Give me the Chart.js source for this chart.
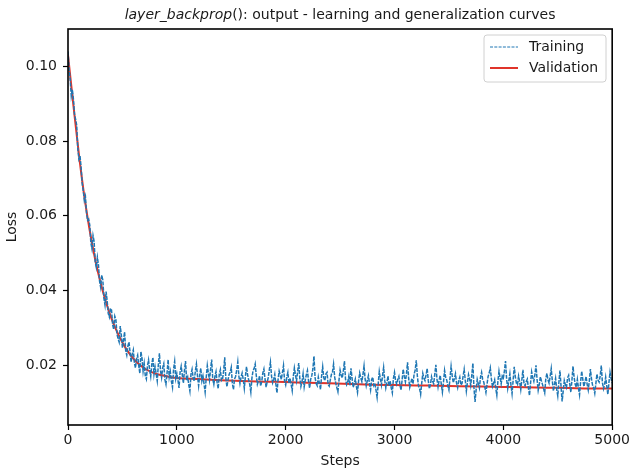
<!DOCTYPE html>
<html>
<head>
<meta charset="utf-8">
<script src="https://cdn.jsdelivr.net/npm/chart.js@4.4.1/dist/chart.umd.min.js"></script>
<style>
  html, body { margin: 0; padding: 0; background: #fff; }
  #wrap { width: 632px; height: 471px; }
</style>
</head>
<body>
<div id="wrap"><canvas id="lossChart" width="632" height="471"></canvas></div>
<script>
// training loss, logged every trainStep steps
const trainStep = 10;
const trainLoss = [
  0.1040, 0.0992, 0.0965, 0.0921, 0.0938, 0.0912, 0.0871, 0.0858, 0.0842, 0.0779, 0.0752, 0.0761, 0.0731, 0.0688, 0.0668, 0.0641, 0.0652, 0.0609, 0.0588, 0.0591,
  0.0575, 0.0528, 0.0512, 0.0547, 0.0531, 0.0476, 0.0462, 0.0489, 0.0468, 0.0425, 0.0409, 0.0441, 0.0428, 0.0379, 0.0361, 0.0397, 0.0372, 0.0338, 0.0329, 0.0352,
  0.0348, 0.0309, 0.0296, 0.0331, 0.0322, 0.0283, 0.0271, 0.0262, 0.0305, 0.0281, 0.0246, 0.0268, 0.0289, 0.0239, 0.0227, 0.0251, 0.0262, 0.0236, 0.0208, 0.0230,
  0.0241, 0.0206, 0.0193, 0.0218, 0.0227, 0.0199, 0.0178, 0.0236, 0.0219, 0.0184, 0.0205, 0.0172, 0.0163, 0.0198, 0.0214, 0.0187, 0.0170, 0.0203, 0.0221, 0.0176,
  0.0196, 0.0177, 0.0158, 0.0201, 0.0232, 0.0185, 0.0167, 0.0193, 0.0204, 0.0162, 0.0149, 0.0179, 0.0215, 0.0168, 0.0183, 0.0157, 0.0141, 0.0190, 0.0210, 0.0164,
  0.0178, 0.0161, 0.0139, 0.0182, 0.0197, 0.0174, 0.0152, 0.0186, 0.0211, 0.0159, 0.0168, 0.0147, 0.0131, 0.0176, 0.0189, 0.0165, 0.0157, 0.0184, 0.0203, 0.0171,
  0.0145, 0.0174, 0.0192, 0.0158, 0.0171, 0.0150, 0.0128, 0.0167, 0.0199, 0.0178, 0.0160, 0.0189, 0.0215, 0.0163, 0.0149, 0.0170, 0.0183, 0.0154, 0.0137, 0.0176,
  0.0188, 0.0159, 0.0163, 0.0185, 0.0221, 0.0166, 0.0142, 0.0160, 0.0175, 0.0181, 0.0194, 0.0152, 0.0135, 0.0163, 0.0170, 0.0187, 0.0209, 0.0171, 0.0151, 0.0168,
  0.0179, 0.0162, 0.0138, 0.0170, 0.0196, 0.0175, 0.0161, 0.0148, 0.0128, 0.0166, 0.0185, 0.0191, 0.0203, 0.0172, 0.0149, 0.0158, 0.0172, 0.0144, 0.0156, 0.0179,
  0.0190, 0.0164, 0.0141, 0.0155, 0.0167, 0.0188, 0.0208, 0.0171, 0.0153, 0.0162, 0.0176, 0.0149, 0.0126, 0.0161, 0.0184, 0.0173, 0.0162, 0.0180, 0.0199, 0.0157,
  0.0147, 0.0168, 0.0181, 0.0152, 0.0165, 0.0149, 0.0132, 0.0170, 0.0193, 0.0174, 0.0158, 0.0183, 0.0206, 0.0165, 0.0143, 0.0156, 0.0177, 0.0142, 0.0160, 0.0175,
  0.0186, 0.0158, 0.0139, 0.0163, 0.0172, 0.0190, 0.0224, 0.0167, 0.0151, 0.0145, 0.0168, 0.0152, 0.0135, 0.0171, 0.0196, 0.0166, 0.0159, 0.0177, 0.0181, 0.0148,
  0.0144, 0.0161, 0.0175, 0.0182, 0.0203, 0.0169, 0.0152, 0.0140, 0.0129, 0.0160, 0.0187, 0.0174, 0.0166, 0.0185, 0.0211, 0.0162, 0.0148, 0.0155, 0.0170, 0.0146,
  0.0192, 0.0165, 0.0141, 0.0150, 0.0163, 0.0143, 0.0127, 0.0158, 0.0179, 0.0166, 0.0156, 0.0175, 0.0198, 0.0163, 0.0145, 0.0159, 0.0172, 0.0151, 0.0134, 0.0162,
  0.0168, 0.0146, 0.0152, 0.0133, 0.0114, 0.0149, 0.0183, 0.0164, 0.0147, 0.0172, 0.0194, 0.0160, 0.0139, 0.0153, 0.0171, 0.0144, 0.0158, 0.0139, 0.0126, 0.0165,
  0.0181, 0.0158, 0.0149, 0.0162, 0.0170, 0.0147, 0.0133, 0.0161, 0.0189, 0.0170, 0.0155, 0.0178, 0.0208, 0.0164, 0.0141, 0.0153, 0.0165, 0.0150, 0.0176, 0.0187,
  0.0213, 0.0171, 0.0145, 0.0138, 0.0122, 0.0152, 0.0178, 0.0165, 0.0159, 0.0174, 0.0191, 0.0160, 0.0137, 0.0148, 0.0169, 0.0157, 0.0150, 0.0176, 0.0201, 0.0163,
  0.0142, 0.0160, 0.0173, 0.0149, 0.0128, 0.0155, 0.0186, 0.0168, 0.0160, 0.0145, 0.0134, 0.0166, 0.0197, 0.0172, 0.0153, 0.0164, 0.0177, 0.0152, 0.0140, 0.0159,
  0.0168, 0.0147, 0.0151, 0.0170, 0.0189, 0.0160, 0.0131, 0.0154, 0.0175, 0.0163, 0.0146, 0.0173, 0.0205, 0.0140, 0.0102, 0.0135, 0.0162, 0.0150, 0.0139, 0.0168,
  0.0181, 0.0162, 0.0155, 0.0141, 0.0127, 0.0149, 0.0170, 0.0179, 0.0193, 0.0164, 0.0143, 0.0152, 0.0161, 0.0138, 0.0120, 0.0157, 0.0184, 0.0166, 0.0150, 0.0171,
  0.0166, 0.0185, 0.0211, 0.0163, 0.0138, 0.0158, 0.0177, 0.0147, 0.0124, 0.0160, 0.0196, 0.0169, 0.0152, 0.0148, 0.0171, 0.0155, 0.0135, 0.0161, 0.0188, 0.0150,
  0.0145, 0.0156, 0.0163, 0.0140, 0.0119, 0.0152, 0.0182, 0.0167, 0.0157, 0.0175, 0.0200, 0.0161, 0.0133, 0.0149, 0.0169, 0.0158, 0.0148, 0.0137, 0.0126, 0.0164,
  0.0178, 0.0161, 0.0152, 0.0170, 0.0191, 0.0158, 0.0131, 0.0149, 0.0165, 0.0136, 0.0118, 0.0153, 0.0186, 0.0144, 0.0103, 0.0131, 0.0159, 0.0147, 0.0140, 0.0166,
  0.0173, 0.0150, 0.0128, 0.0159, 0.0197, 0.0168, 0.0149, 0.0141, 0.0162, 0.0139, 0.0121, 0.0156, 0.0184, 0.0162, 0.0143, 0.0155, 0.0170, 0.0149, 0.0134, 0.0158,
  0.0190, 0.0163, 0.0146, 0.0139, 0.0125, 0.0151, 0.0176, 0.0160, 0.0155, 0.0172, 0.0199, 0.0154, 0.0137, 0.0148, 0.0168, 0.0145, 0.0122, 0.0153, 0.0181, 0.0164,
  0.0152
];

// validation loss
const valSteps = [
  0, 50, 100, 150, 200, 250, 300, 350, 400, 450, 500, 550, 600, 650, 700, 750,
  800, 850, 900, 950, 1000, 1200, 1400, 1600, 1800, 2000, 2200, 2400, 2600, 2800,
  3000, 3200, 3400, 3600, 3800, 4000, 4200, 4400, 4600, 4800, 5000
];
const valLoss = [
  0.1030, 0.0895, 0.0765, 0.0652, 0.0560, 0.0483, 0.0420, 0.0368, 0.0325, 0.0290,
  0.0261, 0.0237, 0.0218, 0.0203, 0.0192, 0.0184, 0.0178, 0.0174, 0.0171, 0.0168,
  0.0166, 0.0163, 0.0160, 0.0158, 0.0156, 0.0155, 0.0153, 0.0152, 0.0150, 0.0148,
  0.0147, 0.0146, 0.0145, 0.0144, 0.0143, 0.0142, 0.0141, 0.0140, 0.0139, 0.0138,
  0.0138
];

const xTicks = [0, 1000, 2000, 3000, 4000, 5000];
const yTicks = [0.02, 0.04, 0.06, 0.08, 0.10];

const FONT = "'DejaVu Sans', sans-serif";
const TXT = '#1a1a1a';

// axes box, title and legend drawn like matplotlib
const mplDecor = {
  id: 'mplDecor',
  afterDatasetsDraw(chart) {
    const ctx = chart.ctx;
    const a = chart.chartArea;
    ctx.save();
    ctx.strokeStyle = '#000';
    ctx.lineWidth = 1.6;
    ctx.strokeRect(a.left, a.top, a.right - a.left, a.bottom - a.top);

    // title
    const parts = [
      { t: 'layer_backprop', f: 'italic 14px ' + FONT },
      { t: '(): output - learning and generalization curves', f: '14px ' + FONT }
    ];
    let w = 0;
    parts.forEach(p => { ctx.font = p.f; w += ctx.measureText(p.t).width; });
    let x = (a.left + a.right) / 2 - w / 2;
    ctx.fillStyle = TXT;
    ctx.textBaseline = 'alphabetic';
    ctx.textAlign = 'left';
    parts.forEach(p => {
      ctx.font = p.f;
      ctx.fillText(p.t, x, 19);
      x += ctx.measureText(p.t).width;
    });

    // legend
    const bx = 484, by = 35, bw = 122, bh = 47;
    ctx.beginPath();
    ctx.roundRect(bx, by, bw, bh, 3);
    ctx.fillStyle = 'rgba(255,255,255,0.8)';
    ctx.fill();
    ctx.strokeStyle = '#d0d0d0';
    ctx.lineWidth = 1;
    ctx.stroke();
    ctx.font = '14px ' + FONT;
    ctx.textBaseline = 'middle';
    chart.data.datasets.forEach((ds, i) => {
      const ly = by + 12 + i * 21;
      ctx.beginPath();
      ctx.strokeStyle = ds.borderColor;
      ctx.lineWidth = i === 0 ? 1 : ds.borderWidth;
      ctx.setLineDash(i === 0 ? [3, 1.3] : []);
      ctx.moveTo(bx + 6, ly);
      ctx.lineTo(bx + 34, ly);
      ctx.stroke();
      ctx.setLineDash([]);
      ctx.fillStyle = TXT;
      ctx.fillText(ds.label, bx + 45, ly);
    });
    ctx.restore();
  }
};

new Chart(document.getElementById('lossChart').getContext('2d'), {
  type: 'line',
  data: {
    datasets: [{
      label: 'Training',
      data: trainLoss.map((v, i) => ({ x: i * trainStep, y: v })),
      borderColor: '#1f77b4',
      borderWidth: 1.5,
      borderDash: [4, 1.2],
      pointRadius: 0,
      tension: 0
    }, {
      label: 'Validation',
      data: valSteps.map((s, i) => ({ x: s, y: valLoss[i] })),
      borderColor: '#e0342a',
      borderWidth: 2,
      pointRadius: 0,
      cubicInterpolationMode: 'monotone'
    }]
  },
  options: {
    responsive: false,
    animation: false,
    layout: { padding: { top: 29, right: 18, bottom: 0, left: 0 } },
    plugins: {
      legend: { display: false },
      title: { display: false },
      tooltip: { enabled: false }
    },
    scales: {
      x: {
        type: 'linear',
        min: 0,
        max: 5000,
        afterBuildTicks: s => { s.ticks = xTicks.map(v => ({ value: v })); },
        afterFit: s => { s.height = 46; },
        ticks: { color: TXT, font: { family: FONT, size: 14 }, padding: 2, maxRotation: 0, callback: v => String(v) },
        grid: { drawOnChartArea: false, tickLength: 5, tickColor: '#000', tickWidth: 1.2 },
        border: { display: false },
        title: { display: true, text: 'Steps', color: TXT, font: { family: FONT, size: 14 }, padding: { top: 0, bottom: 1 } }
      },
      y: {
        min: 0.004,
        max: 0.110,
        afterBuildTicks: s => { s.ticks = yTicks.map(v => ({ value: v })); },
        afterFit: s => { s.width = 68; },
        ticks: { color: TXT, font: { family: FONT, size: 14 }, padding: 6, callback: v => v.toFixed(2) },
        grid: { drawOnChartArea: false, tickLength: 5, tickColor: '#000', tickWidth: 1.2 },
        border: { display: false },
        title: { display: true, text: 'Loss', color: TXT, font: { family: FONT, size: 14 }, padding: { top: 4, bottom: 0 } }
      }
    }
  },
  plugins: [mplDecor]
});
</script>
</body>
</html>
